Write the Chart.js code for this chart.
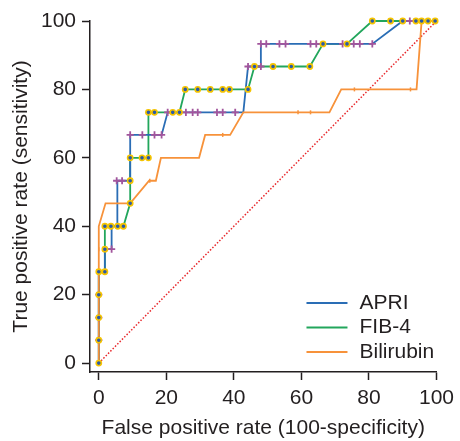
<!DOCTYPE html>
<html><head><meta charset="utf-8">
<script src="https://cdn.jsdelivr.net/npm/chart.js@4.4.1/dist/chart.umd.min.js"></script>
<style>html,body{margin:0;padding:0;background:#fff}#wrap{width:460px;height:441px;position:relative}</style>
</head><body><div id="wrap"><canvas id="c"></canvas></div>
<script>
// ---- data ----
const seriesNames = ['APRI', 'FIB-4', 'Bilirubin'];
const axisTicks = [0, 20, 40, 60, 80, 100];
const xTitle = 'False positive rate (100-specificity)';
const yTitle = 'True positive rate (sensitivity)';

const apriX = [0, 0, 0, 0, 0, 1.8, 1.8, 3.8, 3.8, 5.5, 5.5, 9.3, 9.3, 18.6, 20.4, 42.8, 44.2, 48, 48, 81, 90, 100];
const apriY = [0, 6.7, 13.3, 20, 26.7, 26.7, 33.3, 33.3, 40, 40, 53.3, 53.3, 66.7, 66.7, 73.3, 73.3, 86.7, 86.7, 93.3, 93.3, 100, 100];

const apriMarkX = [0, 0, 0, 3.8, 5.3, 6.9, 9.3, 12.9, 16.5, 18.6, 20.4, 25.8, 27.8, 29.3, 35, 36.7, 40.4, 44.2, 48, 48, 49.6, 53.5, 55.3, 62.7, 64.4, 72.2, 75.5, 77.3, 81, 92.1];
const apriMarkY = [6.7, 13.3, 20, 33.3, 53.3, 53.3, 66.7, 66.7, 66.7, 66.7, 73.3, 73.3, 73.3, 73.3, 73.3, 73.3, 73.3, 86.7, 86.7, 93.3, 93.3, 93.3, 93.3, 93.3, 93.3, 93.3, 93.3, 93.3, 93.3, 100];

const fibX = [0, 0, 0, 0, 0, 1.8, 1.8, 1.8, 3.6, 5.6, 7.3, 9.3, 9.3, 9.3, 12.8, 14.7, 14.7, 16.5, 21.9, 23.9, 25.6, 29.3, 33, 36.7, 38.7, 44.2, 46.1, 51.6, 57, 62.5, 66.4, 73.5, 81, 86.4, 90, 93.9, 95.6, 97.5, 99.6];
const fibY = [0, 6.7, 13.3, 20, 26.7, 26.7, 33.3, 40, 40, 40, 40, 46.7, 53.3, 60, 60, 60, 73.3, 73.3, 73.3, 73.3, 80, 80, 80, 80, 80, 80, 86.7, 86.7, 86.7, 86.7, 93.3, 93.3, 100, 100, 100, 100, 100, 100, 100];

const bilX = [0, 0, 2, 9.3, 14.9, 16.9, 18.4, 29.7, 31.5, 38.9, 42.8, 68.3, 71.8, 94.1, 95.6, 100];
const bilY = [0, 40, 46.7, 46.7, 53.3, 53.3, 60, 60, 66.7, 66.7, 73.3, 73.3, 80, 80, 100, 100];

const bilMarkX = [0, 15.1, 36.7, 59, 62.7, 75.7, 92.3];
const bilMarkY = [33.3, 53.3, 66.7, 73.3, 73.3, 80, 80];

const refX = [0, 100];
const refY = [0, 100];

// ---- styling ----
const FONT = "'Liberation Sans', Arial, Helvetica, sans-serif";
const TXT = '#231f20';
const C = { apri: '#2a6db5', fib: '#22a65c', bil: '#f7923a', cross: '#a2559c', ring: '#f5c400', dot: '#2a5aa8', diag: '#e8262a' };
const pts = (xs, ys) => xs.map((x, i) => ({ x: x, y: ys[i] }));

const cornerLegend = {
  id: 'cornerLegend',
  afterDatasetsDraw(chart) {
    const { ctx, chartArea } = chart;
    const x0 = chartArea.right - 130, x1 = x0 + 41, tx = x1 + 12;
    const y0 = chartArea.bottom - 69;
    ctx.save();
    ctx.font = '21px ' + FONT;
    ctx.textBaseline = 'middle';
    ctx.textAlign = 'left';
    ctx.fillStyle = TXT;
    seriesNames.forEach((name, i) => {
      const ds = chart.data.datasets.find(d => d.label === name);
      const yy = y0 + i * 24.5;
      ctx.strokeStyle = ds.borderColor;
      ctx.lineWidth = 2;
      ctx.beginPath(); ctx.moveTo(x0, yy); ctx.lineTo(x1, yy); ctx.stroke();
      ctx.fillText(name, tx, yy);
    });
    ctx.restore();
  }
};

const lineDs = (label, data, color, order) => ({
  label, data, showLine: true, borderColor: color, backgroundColor: color,
  borderWidth: 1.8, pointRadius: 0, pointHoverRadius: 0, tension: 0, clip: false, order
});

const axis = (title, pos) => ({
  type: 'linear', position: pos, min: -2.6, max: 100,
  afterBuildTicks: s => { s.ticks = axisTicks.map(v => ({ value: v })); },
  afterFit: s => { if (pos === 'left') s.width = 90; else s.height = 69; },
  grid: { display: true, drawOnChartArea: false, drawTicks: true, tickLength: 8, tickColor: TXT, tickWidth: 1.5 },
  border: { display: true, color: TXT, width: 1.5 },
  ticks: { font: { family: FONT, size: 21 }, color: TXT, padding: pos === 'left' ? 6 : 6, maxRotation: 0 },
  title: { display: true, text: title, color: TXT, font: { family: FONT, size: 21 },
           padding: pos === 'left' ? { top: 9, bottom: 0 } : { top: 0, bottom: 0 } }
});

new Chart(document.getElementById('c'), {
  type: 'scatter',
  data: {
    datasets: [
      { label: 'FIB-4 points', data: pts(fibX, fibY), showLine: false, pointStyle: 'circle', pointRadius: 2.6,
        pointBackgroundColor: C.dot, pointBorderColor: C.ring, pointBorderWidth: 1.6, clip: false, order: 0 },
      { label: 'APRI points', data: pts(apriMarkX, apriMarkY), showLine: false, pointStyle: 'cross', pointRadius: 3.6,
        pointBorderColor: C.cross, pointBorderWidth: 1.8, clip: false, order: 1 },
      { label: 'Bilirubin points', data: pts(bilMarkX, bilMarkY), showLine: false, pointStyle: 'line', pointRotation: 90,
        pointRadius: 2, pointBorderColor: C.bil, pointBorderWidth: 1.5, clip: false, order: 2 },
      lineDs('Bilirubin', pts(bilX, bilY), C.bil, 3),
      lineDs('APRI', pts(apriX, apriY), C.apri, 4),
      lineDs('FIB-4', pts(fibX, fibY), C.fib, 5),
      { label: 'Reference', data: pts(refX, refY), showLine: true, borderColor: C.diag, borderWidth: 1.5,
        borderDash: [1.5, 1.8], pointRadius: 0, tension: 0, clip: false, order: 6 }
    ]
  },
  options: {
    responsive: true, maintainAspectRatio: false, animation: false,
    layout: { padding: { top: 21, right: 19, left: 0, bottom: 0 } },
    plugins: { legend: { display: false }, tooltip: { enabled: false } },
    scales: { x: axis(xTitle, 'bottom'), y: axis(yTitle, 'left') }
  },
  plugins: [cornerLegend]
});
</script>
</body></html>
